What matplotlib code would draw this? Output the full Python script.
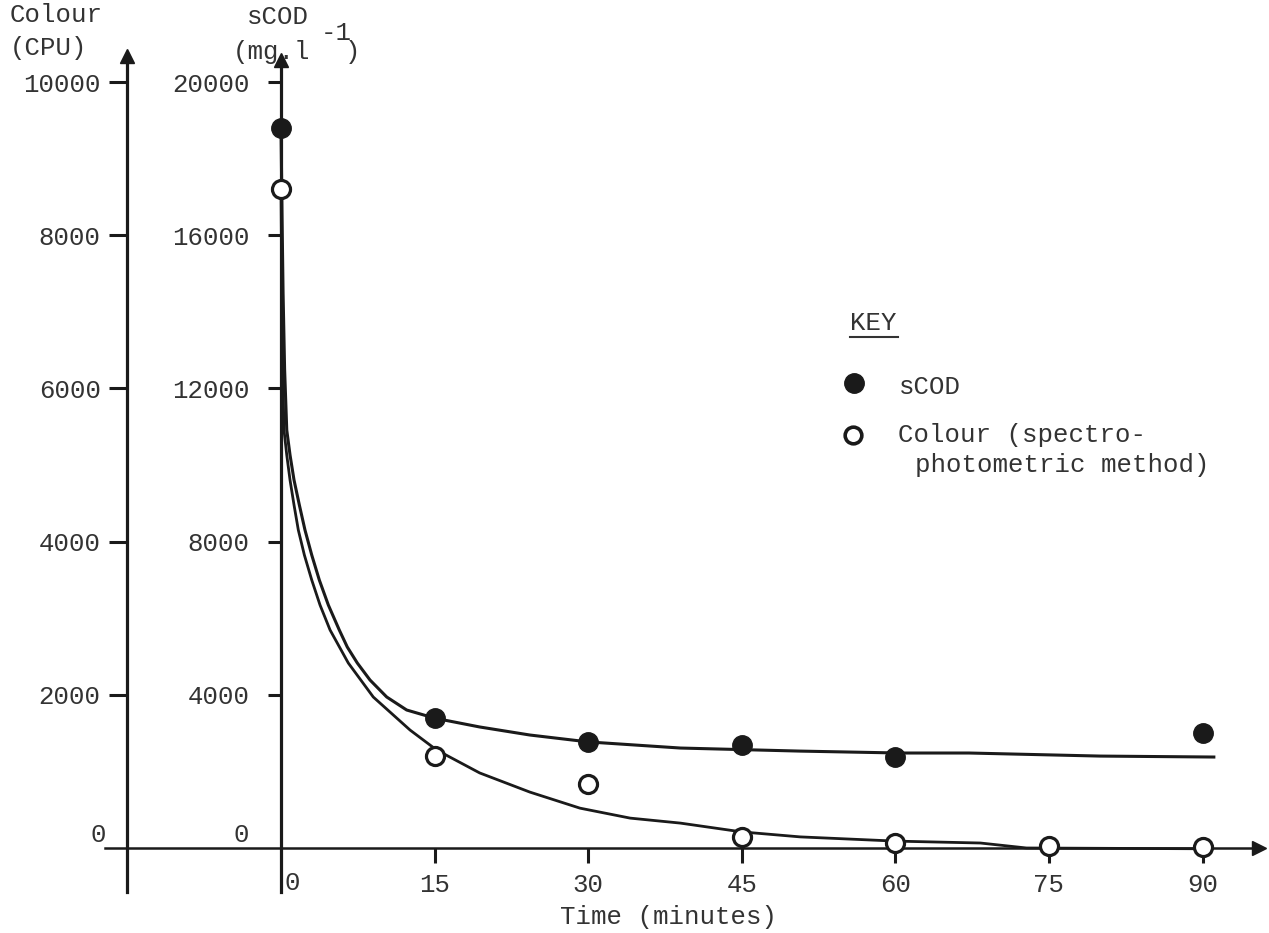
import numpy as np
import matplotlib
matplotlib.use("Agg")
import matplotlib.pyplot as plt
import matplotlib as mpl

mpl.rcParams['font.family'] = ['Liberation Mono', 'DejaVu Sans Mono']
mpl.rcParams['font.size'] = 18.5
mpl.rcParams['text.color'] = '#333333'
mpl.rcParams['xtick.color'] = '#1a1a1a'
mpl.rcParams['ytick.color'] = '#1a1a1a'
mpl.rcParams['xtick.labelcolor'] = '#333333'
mpl.rcParams['ytick.labelcolor'] = '#333333'

# measured points
time_pts = [0, 15, 30, 45, 60, 90]
scod_pts = [18800, 3400, 2770, 2700, 2380, 3000]

colour_time = [0, 15, 30, 45, 60, 75, 90]
colour_pts = [8600, 1200, 840, 140, 65, 25, 13]

# hand drawn curves
scod_curve_t = [0, 0.1, 0.2, 0.35, 0.56, 0.88, 1.27, 1.79, 2.34, 3.0, 3.74, 4.62,
                5.69, 6.47, 7.45, 8.69, 10.32, 12.27, 15, 19.4, 24.3, 30, 39,
                50.7, 60.4, 67.2, 80, 91.1]
scod_curve_v = [18800, 16500, 14500, 12500, 10914, 10261, 9608, 8956, 8303, 7650,
                6997, 6345, 5692, 5248, 4830, 4386, 3943, 3603, 3390, 3160, 2950,
                2770, 2610, 2530, 2480, 2480, 2400, 2375]

colour_curve_t = [0, 0.08, 0.17, 0.29, 0.56, 0.88, 1.27, 1.69, 2.28, 3.0, 3.81,
                  4.79, 6.57, 9.01, 12.6, 15.2, 19.4, 24.3, 29.2, 34.1, 39, 45,
                  50.7, 60, 68.3, 72.8, 90]
colour_curve_v = [8600, 7200, 6200, 5457, 5131, 4804, 4478, 4151, 3825, 3499,
                  3172, 2846, 2415, 1971, 1540, 1279, 980, 730, 520, 390, 325,
                  210, 145, 90, 65, 0, -10]

scod_ticks = [4000, 8000, 12000, 16000, 20000]
colour_ticks = [2000, 4000, 6000, 8000, 10000]
time_ticks = [15, 30, 45, 60, 75, 90]

W, H = 1269, 933
ink = '#1a1a1a'


def px(x, y):
    return x / W, 1 - y / H


fig = plt.figure(figsize=(W / 100, H / 100), dpi=100)
ax = fig.add_axes([105 / W, 41 / H, 1154 / W, 832 / H])
ax.set_xlim(-17.19, 95.51)
ax.set_ylim(-1149, 20575)

for s in ['top', 'right']:
    ax.spines[s].set_visible(False)
ax.spines['left'].set_position(('data', 0))
ax.spines['bottom'].set_position(('data', 0))
ax.spines['left'].set_linewidth(2.3)
ax.spines['bottom'].set_linewidth(1.8)
ax.spines['left'].set_color(ink)
ax.spines['bottom'].set_color(ink)

ax.set_yticks(scod_ticks)
ax.set_xticks(time_ticks)
ax.tick_params(axis='y', direction='out', length=9.5, width=2.2, pad=13)
ax.tick_params(axis='x', direction='out', length=11, width=2.2, pad=7)

# colour axis
ax2 = ax.twinx()
ax2.set_ylim(-574.5, 10287.5)
for s in ['top', 'right', 'bottom']:
    ax2.spines[s].set_visible(False)
ax2.spines['left'].set_visible(True)
ax2.spines['left'].set_position(('data', -15.04))
ax2.spines['left'].set_linewidth(2.3)
ax2.spines['left'].set_color(ink)
ax2.yaxis.set_ticks_position('left')
ax2.yaxis.set_label_position('left')
ax2.set_yticks(colour_ticks)
ax2.tick_params(axis='y', direction='out', length=13, width=2.2, pad=6)

# curves and points
ax.plot(scod_curve_t, scod_curve_v, color=ink, lw=2.2, zorder=3, clip_on=False)
ax2.plot(colour_curve_t, colour_curve_v, color=ink, lw=2.0, zorder=3, clip_on=False)
ax.plot(time_pts, scod_pts, 'o', ms=14, color=ink, zorder=5, clip_on=False)
ax2.plot(colour_time, colour_pts, 'o', ms=13, mfc='white', mec=ink, mew=2.3,
         zorder=5, clip_on=False)

# arrow heads
ax.plot([0], [1], '^', ms=10, color=ink, transform=ax.get_xaxis_transform(), clip_on=False)
ax.plot([-15.04], [1.005], '^', ms=10, color=ink, transform=ax.get_xaxis_transform(), clip_on=False)
ax.plot([1], [0], '>', ms=10, color=ink, transform=ax.get_yaxis_transform(), clip_on=False)

# zero labels
fig.text(*px(241, 835), '0', ha='center', va='center')
fig.text(*px(98, 835), '0', ha='center', va='center')
fig.text(*px(292, 883), '0', ha='center', va='center')

# axis titles
fig.text(*px(10, 15), 'Colour', ha='left', va='center')
fig.text(*px(10, 48), '(CPU)', ha='left', va='center')
fig.text(*px(247, 17), 'sCOD', ha='left', va='center')
fig.text(*px(321, 33), '-1', ha='left', va='center')
fig.text(*px(233, 52), '(mg.l', ha='left', va='center')
fig.text(*px(345, 52), ')', ha='left', va='center')
fig.text(*px(668, 917), 'Time (minutes)', ha='center', va='center')

# key
fig.text(*px(850, 323), 'KEY', ha='left', va='center')
ax.plot([850 / W, 898 / W], [1 - 337 / H, 1 - 337 / H], color='#333333', lw=1.5,
        transform=fig.transFigure, clip_on=False)
ax.plot([854 / W], [1 - 383 / H], 'o', ms=14, color=ink, transform=fig.transFigure, clip_on=False)
fig.text(*px(899, 387), 'sCOD', ha='left', va='center')
ax.plot([853 / W], [1 - 435 / H], 'o', ms=12, mfc='white', mec=ink, mew=2.6,
        transform=fig.transFigure, clip_on=False)
fig.text(*px(898, 435), 'Colour (spectro-', ha='left', va='center')
fig.text(*px(915, 465), 'photometric method)', ha='left', va='center')

fig.savefig('out.png', dpi=100, facecolor='white')
